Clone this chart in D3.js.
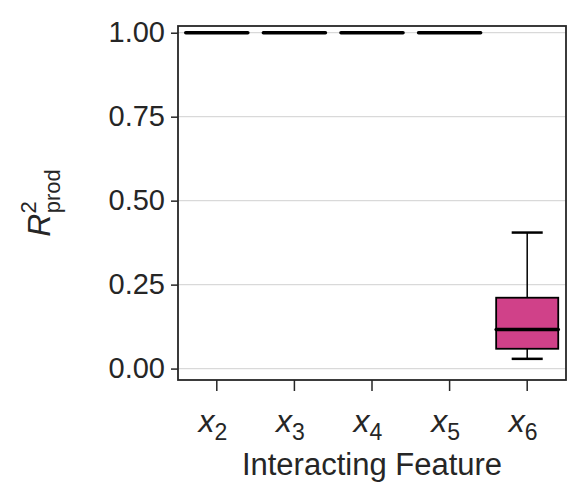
<!DOCTYPE html>
<html><head><meta charset="utf-8">
<script src="https://cdn.jsdelivr.net/npm/d3@7"></script>
<style>body{margin:0;background:#fff}text{font-family:"Liberation Sans",Arial,sans-serif;fill:#262626}</style>
</head><body>
<script>
var categories = ["2", "3", "4", "5", "6"];
var q1 = [1, 1, 1, 1, 0.059];
var medians = [1, 1, 1, 1, 0.116];
var q3 = [1, 1, 1, 1, 0.211];
var whiskLo = [1, 1, 1, 1, 0.029];
var whiskHi = [1, 1, 1, 1, 0.405];
var yTicks = [0, 0.25, 0.5, 0.75, 1];

var W = 586, H = 503, m = {l: 178, r: 20, t: 26, b: 123};
var svg = d3.select("body").append("svg").attr("width", W).attr("height", H);
var x = d3.scaleBand().domain(categories).range([m.l, W - m.r]).paddingInner(0.2).paddingOuter(0.1);
var y = d3.scaleLinear().domain([-0.034, 1.02]).range([H - m.b, m.t]);

svg.selectAll(".grid").data(yTicks).enter().append("line")
  .attr("x1", m.l).attr("x2", W - m.r).attr("y1", d => y(d)).attr("y2", d => y(d))
  .attr("stroke", "#d9d9d9").attr("stroke-width", 1.3);

var g = svg.selectAll(".box").data(categories).enter().append("g");
var cx = d => x(d) + x.bandwidth() / 2;
g.append("line").attr("x1", cx).attr("x2", cx)
  .attr("y1", (d, i) => y(whiskLo[i])).attr("y2", (d, i) => y(whiskHi[i])).attr("stroke", "#000").attr("stroke-width", 1.5);
g.append("line").attr("x1", d => cx(d) - x.bandwidth() / 4).attr("x2", d => cx(d) + x.bandwidth() / 4)
  .attr("y1", (d, i) => y(whiskLo[i])).attr("y2", (d, i) => y(whiskLo[i])).attr("stroke", "#000").attr("stroke-width", 2.5);
g.append("line").attr("x1", d => cx(d) - x.bandwidth() / 4).attr("x2", d => cx(d) + x.bandwidth() / 4)
  .attr("y1", (d, i) => y(whiskHi[i])).attr("y2", (d, i) => y(whiskHi[i])).attr("stroke", "#000").attr("stroke-width", 2.5);
g.append("rect").attr("x", d => x(d)).attr("width", x.bandwidth())
  .attr("y", (d, i) => y(q3[i])).attr("height", (d, i) => y(q1[i]) - y(q3[i]))
  .attr("fill", "#d04189").attr("stroke", "#000").attr("stroke-width", 1.8);
g.append("line").attr("x1", d => x(d)).attr("x2", d => x(d) + x.bandwidth())
  .attr("y1", (d, i) => y(medians[i])).attr("y2", (d, i) => y(medians[i]))
  .attr("stroke", "#000").attr("stroke-width", 3.5).attr("stroke-linecap", "round");

svg.append("rect").attr("x", m.l).attr("y", m.t).attr("width", W - m.r - m.l).attr("height", H - m.b - m.t)
  .attr("fill", "none").attr("stroke", "#262626").attr("stroke-width", 1.8);

var ya = svg.append("g").attr("transform", "translate(" + m.l + ",0)")
  .call(d3.axisLeft(y).tickValues(yTicks).tickFormat(d3.format(".2f")).tickSize(7).tickPadding(6));
var xa = svg.append("g").attr("transform", "translate(0," + (H - m.b) + ")")
  .call(d3.axisBottom(x).tickSize(11).tickPadding(6).tickFormat(""));
[ya, xa].forEach(a => { a.select(".domain").remove(); a.selectAll("line").attr("stroke", "#262626").attr("stroke-width", 1.5); });
ya.selectAll("text").attr("font-size", null).style("font-size", "29px").attr("fill", "#262626");

var xl = svg.selectAll(".xl").data(categories).enter().append("text")
  .attr("x", d => cx(d) - 4).attr("y", H - m.b + 52).attr("text-anchor", "middle").style("font-size", "32px");
xl.append("tspan").style("font-style", "italic").text("x");
xl.append("tspan").attr("dy", 8).style("font-size", "23px").text(d => d);

svg.append("text").attr("x", 372).attr("y", 475).attr("text-anchor", "middle")
  .style("font-size", "31px").text("Interacting Feature");

var yl = svg.append("text").attr("transform", "translate(50," + ((m.t + H - m.b) / 2) + ") rotate(-90)")
  .attr("text-anchor", "middle").style("font-size", "32px");
yl.append("tspan").style("font-style", "italic").text("R");
yl.append("tspan").attr("dy", -14).style("font-size", "22px").text("2");
yl.append("tspan").attr("dx", -12).attr("dy", 24).style("font-size", "22px").text("prod");
</script>
</body></html>
